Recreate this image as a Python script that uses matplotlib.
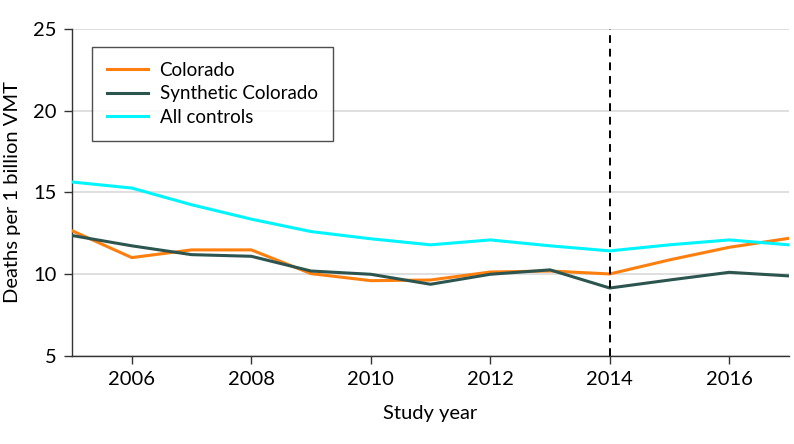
import matplotlib
matplotlib.use('Agg')
import matplotlib.pyplot as plt

years = list(range(2005, 2018))
colorado = [12.66, 11.02, 11.49, 11.49, 10.04, 9.61, 9.65, 10.14, 10.2, 10.02, 10.88, 11.65, 12.2]
synthetic = [12.37, 11.74, 11.2, 11.1, 10.2, 10.0, 9.39, 10.0, 10.27, 9.16, 9.65, 10.12, 9.9]
all_controls = [15.64, 15.27, 14.25, 13.37, 12.61, 12.17, 11.8, 12.1, 11.74, 11.43, 11.8, 12.1, 11.8]
policy_year = 2014

plt.rcParams['font.family'] = ['Lato', 'DejaVu Sans']

fig = plt.figure(figsize=(7.94, 4.44), dpi=100)
ax = fig.add_axes([0.0907, 0.198, 0.903, 0.737])

ax.plot(years, colorado, color='#FF7F0E', lw=2.2, label='Colorado', zorder=3)
ax.plot(years, synthetic, color='#2D5550', lw=2.2, label='Synthetic Colorado', zorder=3)
ax.plot(years, all_controls, color='#00F5FF', lw=2.2, label='All controls', zorder=3)
ax.axvline(policy_year, color='black', ls=(0, (4, 3)), lw=1.4, zorder=4)

ax.set_xlim(2005, 2017)
ax.set_ylim(5, 25)
ax.set_xticks([2006, 2008, 2010, 2012, 2014, 2016])
ax.set_yticks([5, 10, 15, 20, 25])
ax.yaxis.grid(True, color='#d9d9d9', lw=1.2)
ax.set_axisbelow(True)

for s in ['top', 'right']:
    ax.spines[s].set_visible(False)
for s in ['left', 'bottom']:
    ax.spines[s].set_color('#333333')
    ax.spines[s].set_linewidth(1.0)
ax.tick_params(colors='#333333', labelcolor='black', labelsize=14.5, length=6, width=1.0, pad=5)

ax.set_xlabel('Study year', fontsize=14.5, labelpad=12)
ax.set_ylabel('Deaths per 1 billion VMT', fontsize=14.5, labelpad=9)

leg = ax.legend(loc='upper left', bbox_to_anchor=(0.028, 0.945), fontsize=13.5, frameon=True,
                fancybox=False, edgecolor='#222222', handlelength=2.2, borderpad=0.8,
                labelspacing=0.35, borderaxespad=0, handletextpad=0.6)
leg.get_frame().set_linewidth(1.0)

fig.savefig('out.png', dpi=100)
